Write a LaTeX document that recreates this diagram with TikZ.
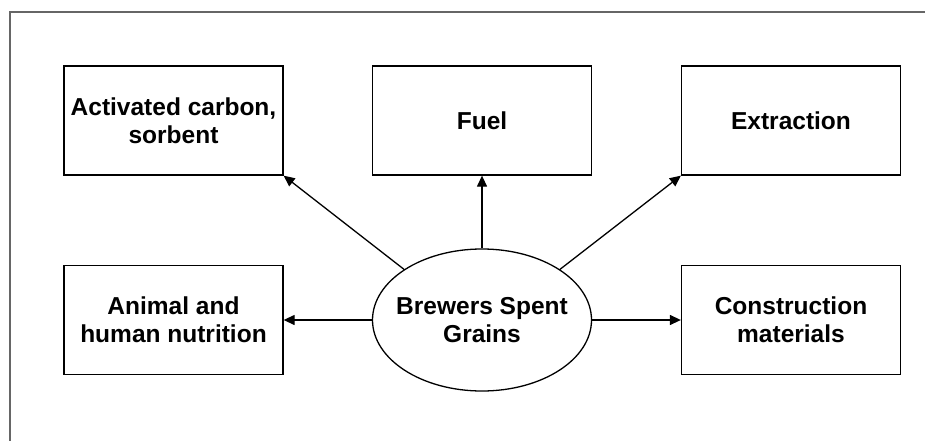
\documentclass[tikz,border=0pt]{standalone}
\usepackage{fontspec}
\setmainfont{Liberation Sans}
\usetikzlibrary{arrows.meta,shapes.geometric}

\begin{document}
\begin{tikzpicture}[x=1pt,y=-1pt,
    usebox/.style={draw,line width=1.3pt,minimum width=219pt,minimum height=109pt,
      align=center,font=\fontsize{24.5}{28}\selectfont\bfseries,inner sep=1pt},
    source/.style={ellipse,draw,line width=1.3pt,minimum width=219pt,minimum height=142pt,
      align=center,font=\fontsize{24.5}{28}\selectfont\bfseries,inner xsep=-12pt,inner ysep=0pt},
    link/.style={line width=1.3pt,-{Triangle[length=11pt,width=10pt]}}]

    %frame of the page
    \useasboundingbox (0,0) rectangle (925,441);
    \draw[gray!80!black,line width=1.2pt] (10,441) -- (10,12) -- (925,12);

    %uses of the grains
    \node[usebox] (carbon) at (173.5,120.5) {Activated carbon,\\sorbent};
    \node[usebox] (fuel) at (482,120.5) {Fuel};
    \node[usebox] (extract) at (791,120.5) {Extraction};
    \node[usebox] (feed) at (173.5,320) {Animal and\\human nutrition};
    \node[usebox] (build) at (791,320) {Construction\\materials};

    \node[source] (bsg) at (482,320) {Brewers Spent\\Grains};

    \draw[link] (bsg.147) -- (carbon.south east);
    \draw[link] (bsg.north) -- (fuel.south);
    \draw[link] (bsg.33) -- (extract.south west);
    \draw[link] (bsg.west) -- (feed.east);
    \draw[link] (bsg.east) -- (build.west);

\end{tikzpicture}
\end{document}
